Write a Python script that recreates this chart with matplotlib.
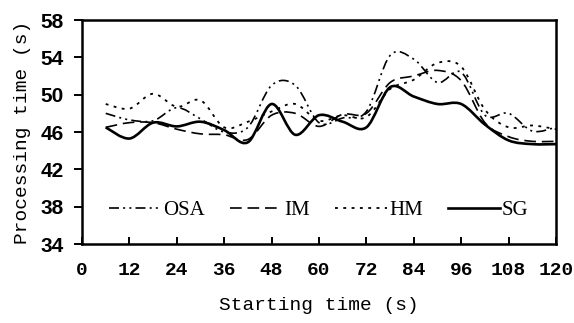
import numpy as np
import matplotlib
matplotlib.use("Agg")
import matplotlib.pyplot as plt
from matplotlib.path import Path
from matplotlib.patches import PathPatch
from matplotlib.lines import Line2D

# starting time (s)
t = [6, 12, 18, 24, 30, 36, 42, 48, 54, 60, 66, 72, 78, 84, 90, 96, 102, 108, 114, 120]

# processing time (s)
osa = [48.0, 47.3, 47.2, 48.6, 47.4, 46.0, 46.5, 51.0, 51.0, 47.0, 47.5, 48.2, 54.2, 53.8, 51.3, 52.4, 47.8, 48.0, 46.1, 46.5]
im  = [46.5, 47.0, 47.0, 46.3, 45.8, 45.7, 45.2, 47.8, 48.0, 46.6, 47.9, 48.0, 51.3, 52.0, 52.6, 51.5, 47.0, 45.5, 45.0, 45.0]
hm  = [49.0, 48.5, 50.1, 48.7, 49.4, 46.5, 47.1, 48.2, 49.0, 47.2, 47.8, 47.6, 50.6, 51.6, 53.4, 53.0, 48.4, 46.5, 46.7, 46.3]
sg  = [46.5, 45.3, 47.0, 46.6, 47.1, 46.2, 44.9, 49.0, 45.7, 47.8, 47.1, 46.5, 50.8, 49.8, 49.0, 49.0, 46.8, 45.1, 44.7, 44.7]

names = ["OSA", "IM", "HM", "SG"]
styles = [
    dict(lw=1.2, ls=(0, (6, 2.5, 1.2, 2.5, 1.2, 2.5))),
    dict(lw=1.2, ls=(0, (7, 3.5))),
    dict(lw=1.3, ls=(0, (1.6, 3.0))),
    dict(lw=1.9, ls="-"),
]


def smooth_path(x, y):
    # excel-like smoothed line: cubic bezier through every point
    p = np.column_stack([x, y]).astype(float)
    n = len(p)
    verts = [p[0]]
    codes = [Path.MOVETO]
    for i in range(n - 1):
        p0 = p[i - 1] if i > 0 else p[i]
        p3 = p[i + 2] if i + 2 < n else p[i + 1]
        c1 = p[i] + (p[i + 1] - p0) / 6
        c2 = p[i + 1] - (p3 - p[i]) / 6
        verts += [c1, c2, p[i + 1]]
        codes += [Path.CURVE4] * 3
    return Path(verts, codes)


fig = plt.figure(figsize=(5.74, 3.23), dpi=100)
ax = fig.add_axes([82 / 574, 1 - 244 / 323, 474 / 574, 224 / 323])

handles = []
for name, vals, st in zip(names, [osa, im, hm, sg], styles):
    patch = PathPatch(smooth_path(t, vals), fill=False, edgecolor="black",
                      lw=st["lw"], linestyle=st["ls"], capstyle="butt")
    ax.add_patch(patch)
    handles.append(Line2D([], [], color="black", lw=st["lw"], linestyle=st["ls"],
                          dash_capstyle="butt", label=name))

ax.set_xlim(0, 120)
ax.set_ylim(34, 58)
ax.set_xticks(np.arange(0, 121, 12))
ax.set_yticks(np.arange(34, 59, 4))

for s in ax.spines.values():
    s.set_linewidth(1.8)

ax.tick_params(axis="x", direction="in", length=5, width=1.4, pad=13)
ax.tick_params(axis="y", direction="out", length=6, width=1.4, pad=7)

for lab in ax.get_xticklabels():
    lab.set_fontfamily("Liberation Mono")
    lab.set_fontweight("bold")
    lab.set_fontsize(14)
for lab in ax.get_yticklabels():
    lab.set_fontfamily("Liberation Sans")
    lab.set_fontweight("bold")
    lab.set_fontsize(15)

ax.set_xlabel("Starting time (s)", fontfamily="Liberation Mono", fontsize=14, labelpad=13)
ax.set_ylabel("Processing time (s)", fontfamily="Liberation Mono", fontsize=14, labelpad=7)

ax.legend(handles=handles, ncol=4, loc="center left", bbox_to_anchor=(0.04, 0.15),
          frameon=False, prop={"family": "Liberation Serif", "size": 15},
          handlelength=2.5, handletextpad=0.1, columnspacing=1.2, borderaxespad=0)

fig.savefig("out.png", dpi=100)
